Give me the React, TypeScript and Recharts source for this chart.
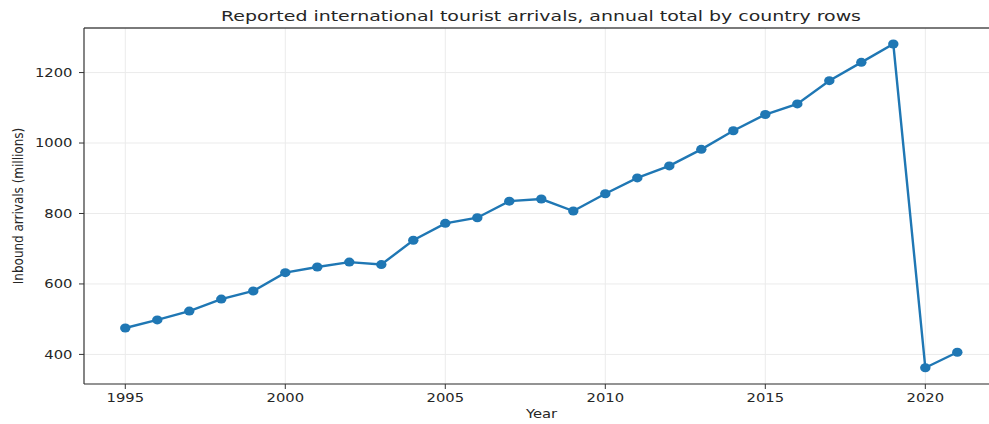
import React from "react";
import { LineChart, Line, XAxis, YAxis, CartesianGrid, ReferenceLine } from "recharts";

const years = [1995, 1996, 1997, 1998, 1999, 2000, 2001, 2002, 2003, 2004, 2005, 2006, 2007, 2008, 2009, 2010, 2011, 2012, 2013, 2014, 2015, 2016, 2017, 2018, 2019, 2020, 2021];
const arrivals = [475, 498, 523, 557, 580, 632, 648, 662, 655, 724, 772, 788, 835, 841, 807, 856, 901, 935, 982, 1035, 1081, 1111, 1177, 1229, 1281, 362, 406];
const xTicks = [1995, 2000, 2005, 2010, 2015, 2020];
const yTicks = [400, 600, 800, 1000, 1200];
const title = "Reported international tourist arrivals, annual total by country rows";
const xLabel = "Year";
const yLabel = "Inbound arrivals (millions)";

const data = years.map((y, i) => ({ year: y, value: arrivals[i] }));

const X_DOMAIN: [number, number] = [1993.71, 2021.99];
const SX = 1.23;
const FONT = "DejaVu Sans";
const COLOR = "#1f77b4";
const TEXT = "#262626";

const XTick = (props: any) => {
  const { x, payload } = props;
  return (
    <g transform={`translate(${x},402) scale(${SX},1)`}>
      <text x={0} y={0} textAnchor="middle" fontFamily={FONT} fontSize={12} fill={TEXT}>
        {payload.value}
      </text>
    </g>
  );
};

const YTick = (props: any) => {
  const { y, payload } = props;
  return (
    <g transform={`translate(72.5,${y + 4.4}) scale(${SX},1)`}>
      <text x={0} y={0} textAnchor="end" fontFamily={FONT} fontSize={12} fill={TEXT}>
        {payload.value}
      </text>
    </g>
  );
};

const Dot = (props: any) => {
  const { cx, cy, index } = props;
  if (cx == null || cy == null) return null;
  return <ellipse key={`d${index}`} cx={cx} cy={cy} rx={5.2} ry={4.5} fill={COLOR} />;
};

const vGen = ({ offset }: any) =>
  xTicks.map((v) => offset.left + ((v - X_DOMAIN[0]) / (X_DOMAIN[1] - X_DOMAIN[0])) * offset.width);

export default function App() {
  return (
    <div style={{ position: "absolute", left: 0, top: 0, width: 989, height: 424, background: "#fff" }}>
      <LineChart width={989} height={424} data={data} margin={{ top: 28, right: 0, bottom: 0, left: 0 }}>
        <CartesianGrid stroke="#ebebeb" strokeWidth={1} verticalCoordinatesGenerator={vGen} />
        <XAxis
          type="number"
          dataKey="year"
          domain={X_DOMAIN}
          ticks={xTicks}
          allowDataOverflow
          height={40}
          tick={<XTick />}
          tickSize={5}
          tickLine={{ stroke: "#333" }}
          axisLine={{ stroke: "#333", strokeWidth: 1.2 }}
          interval={0}
          label={{
            content: () => (
              <g transform={`translate(541.5,418) scale(${SX},1)`}>
                <text x={0} y={0} textAnchor="middle" fontFamily={FONT} fontSize={12} fill={TEXT}>
                  {xLabel}
                </text>
              </g>
            ),
          }}
        />
        <YAxis
          type="number"
          domain={[316, 1326.5]}
          ticks={yTicks}
          allowDataOverflow
          width={84}
          tick={<YTick />}
          tickSize={5}
          tickLine={{ stroke: "#333" }}
          axisLine={{ stroke: "#333", strokeWidth: 1.2 }}
          interval={0}
          label={{
            content: () => (
              <g transform={`translate(22.5,206) scale(${SX},1) rotate(-90)`}>
                <text x={0} y={0} textAnchor="middle" fontFamily={FONT} fontSize={12} fill={TEXT}>
                  {yLabel}
                </text>
              </g>
            ),
          }}
        />
        <ReferenceLine y={1326.5} stroke="#000" strokeWidth={1.2} />
        <Line
          type="linear"
          dataKey="value"
          stroke={COLOR}
          strokeWidth={2.4}
          dot={<Dot />}
          activeDot={false}
          isAnimationActive={false}
        />
      </LineChart>
      <svg width={989} height={30} style={{ position: "absolute", left: 0, top: 0 }}>
        <g transform={`translate(541,20.5) scale(1.28,1)`}>
          <text x={0} y={0} textAnchor="middle" fontFamily={FONT} fontSize={14.8} fill={TEXT}>
            {title}
          </text>
        </g>
      </svg>
    </div>
  );
}
